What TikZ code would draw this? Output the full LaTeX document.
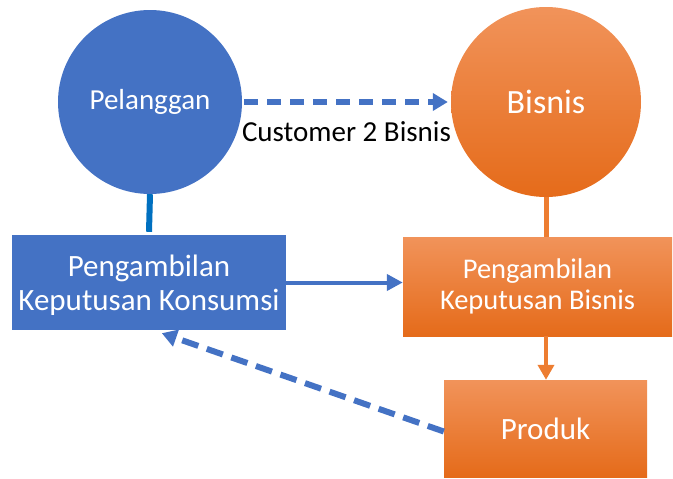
\documentclass[tikz,border=0pt]{standalone}
\usepackage{fontspec}
\setmainfont{Carlito}
\usetikzlibrary{positioning}
\usetikzlibrary {arrows.meta}
\definecolor{blueshape}{HTML}{4472C4}
\definecolor{blueline}{HTML}{0070C0}
\definecolor{orangetop}{HTML}{F1935A}
\definecolor{orangemid}{HTML}{F47E2E}
\definecolor{orangebot}{HTML}{E56B1A}
\definecolor{orangeline}{HTML}{ED7D31}
\tikzset{bluecirc/.style={circle,fill=blueshape,text=white,
inner sep=0pt,minimum size=184pt}}
\tikzset{orangecirc/.style={circle,top color=orangetop,middle color=orangemid,
bottom color=orangebot,text=white,inner sep=0pt,minimum size=190pt}}
\tikzset{bluebox/.style={rectangle,fill=blueshape,text=white,align=center,
inner sep=2pt,minimum height=95pt, minimum width=274pt}}
\tikzset{orangebox/.style={rectangle,top color=orangetop,middle color=orangemid,
bottom color=orangebot,text=white,align=center,
inner sep=2pt,minimum height=99pt, minimum width=269pt}}
\tikzset{dasharrow/.style={draw=blueshape,line width=6pt,
dash pattern=on 14pt off 9pt,-{Triangle[length=15pt,width=17pt]}}}

\begin{document}
\begin{tikzpicture}[x=1pt,y=-1pt]
        \useasboundingbox (0,0) rectangle (673,479);

        \node[bluecirc, font=\fontsize{29}{34}\selectfont] (pelanggan) at (150,102) {Pelanggan};
        \node[orangecirc, font=\fontsize{34}{40}\selectfont] (bisnis) at (546,102) {Bisnis};

        \node[bluebox, font=\fontsize{31}{34}\selectfont, text depth=0pt] (konsumsi) at (149,282.5)
            {Pengambilan\\Keputusan Konsumsi};
        \node[orangebox, font=\fontsize{28.5}{31.5}\selectfont] (keputusan) at (537.5,286.5)
            {Pengambilan\\Keputusan Bisnis};
        \node[orangebox, minimum width=203pt, minimum height=97pt,
            font=\fontsize{31}{36}\selectfont] (produk) at (545.5,428.5) {Produk};

        \draw [dasharrow, shorten <=2pt, shorten >=3pt] (pelanggan.east) -- node[below=13pt, text=black, font=\fontsize{29}{34}\selectfont] {Customer 2 Bisnis} (bisnis.west);

        \draw [blueline, line width=6pt] (pelanggan.south) -- ([yshift=3pt]konsumsi.north);
        \draw [orangeline, line width=5pt] (bisnis.south) -- (bisnis.south |- keputusan.north);

        \draw [blueshape, line width=4pt, -{Triangle[length=16pt,width=16pt]}] (konsumsi.east) -- (konsumsi.east -| keputusan.west);
        \draw [orangeline, line width=4pt, -{Triangle[length=15pt,width=16pt]}] (bisnis.south |- keputusan.south) -- (bisnis.south |- produk.north);

        \draw [dasharrow, dash pattern=on 17pt off 9pt] ([yshift=-3pt]produk.west) -- ([xshift=150pt,yshift=-3pt]konsumsi.south west);

    \end{tikzpicture}
\end{document}
